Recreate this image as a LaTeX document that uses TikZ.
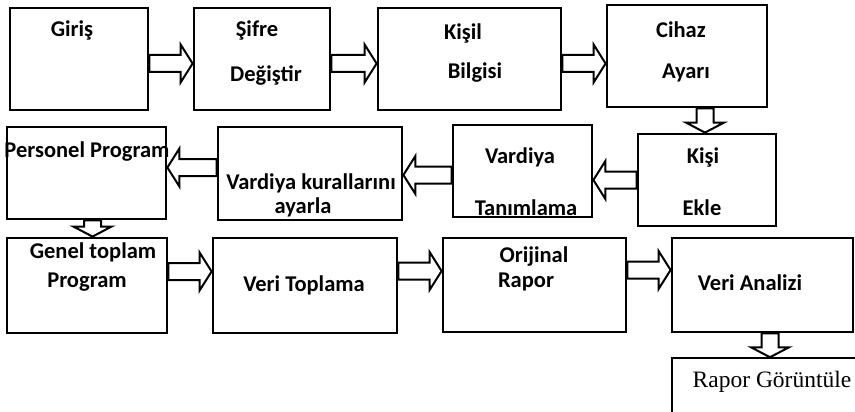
\documentclass[tikz,border=0pt]{standalone}
\usepackage{fontspec}
\setmainfont{Carlito}
\newfontfamily\serifFont{Liberation Serif}
\usetikzlibrary{calc}
\def \girisStr {Giriş}
\def \sifreStr {Şifre}
\def \degistirStr {Değiştir}
\def \kisilStr {Kişil}
\def \bilgisiStr {Bilgisi}
\def \cihazStr {Cihaz}
\def \ayariStr {Ayarı}
\def \personelProgramStr {Personel Program}
\def \vardiyaKurallariStr {Vardiya kurallarını}
\def \ayarlaStr {ayarla}
\def \vardiyaStr {Vardiya}
\def \tanimlamaStr {Tanımlama}
\def \kisiStr {Kişi}
\def \ekleStr {Ekle}
\def \genelToplamStr {Genel toplam}
\def \programStr {Program}
\def \veriToplamaStr {Veri Toplama}
\def \orijinalStr {Orijinal}
\def \raporStr {Rapor}
\def \veriAnaliziStr {Veri Analizi}
\def \raporGoruntuleStr {Rapor Görüntüle}
\def \shaftHalf {8.5pt}
\def \headHalf {19pt}
\def \headLength {12pt}

\tikzset{
  rblock/.style={to path={let \p1=(\tikztostart), \p2=(\tikztotarget) in
    (\x1,\y1+\shaftHalf) -- (\x2-\headLength,\y1+\shaftHalf) -- (\x2-\headLength,\y1+\headHalf)
    -- (\x2,\y1) -- (\x2-\headLength,\y1-\headHalf) -- (\x2-\headLength,\y1-\shaftHalf)
    -- (\x1,\y1-\shaftHalf) -- cycle}},
  lblock/.style={to path={let \p1=(\tikztostart), \p2=(\tikztotarget) in
    (\x1,\y1+\shaftHalf) -- (\x2+\headLength,\y1+\shaftHalf) -- (\x2+\headLength,\y1+\headHalf)
    -- (\x2,\y1) -- (\x2+\headLength,\y1-\headHalf) -- (\x2+\headLength,\y1-\shaftHalf)
    -- (\x1,\y1-\shaftHalf) -- cycle}},
  dblock/.style={to path={let \p1=(\tikztostart), \p2=(\tikztotarget) in
    (\x1-\shaftHalf,\y1) -- (\x1-\shaftHalf,\y2+10pt) -- (\x1-\headHalf,\y2+10pt)
    -- (\x1,\y2) -- (\x1+\headHalf,\y2+10pt) -- (\x1+\shaftHalf,\y2+10pt)
    -- (\x1+\shaftHalf,\y1) -- cycle}}
}

\begin{document}
\begin{tikzpicture}[x=1pt,y=-1pt]

\clip (0,0) rectangle (855,412);

\begin{scope}[blok/.style={draw=black, line width=2.8pt, inner sep=0pt},
  arrow/.style={draw=black, fill=white, line width=2pt},
  mytext/.style={inner sep=0pt, font=\fontsize{22.5}{26}\selectfont\bfseries}]

% boxes
\node[blok, minimum width=138pt, minimum height=102pt] (giris) at (79,59) {};
\node[blok, minimum width=136pt, minimum height=102pt] (sifre) at (262,59) {};
\node[blok, minimum width=183pt, minimum height=102pt] (kisil) at (469.5,59) {};
\node[blok, minimum width=160pt, minimum height=102pt] (cihaz) at (687,56) {};

\node[blok, minimum width=159pt, minimum height=92pt] (personel) at (86.5,173) {};
\node[blok, minimum width=184pt, minimum height=93pt] (vKural) at (310,173.5) {};
\node[blok, minimum width=139pt, minimum height=92pt] (vTanim) at (522.5,171) {};
\node[blok, minimum width=138pt, minimum height=92pt] (kisiEkle) at (707,180) {};

\node[blok, minimum width=160pt, minimum height=95pt] (genel) at (87,285.5) {};
\node[blok, minimum width=184pt, minimum height=95pt] (veriTop) at (305,285.5) {};
\node[blok, minimum width=183pt, minimum height=94pt] (orijinal) at (534.5,285) {};
\node[blok, minimum width=181pt, minimum height=94pt] (veriAnaliz) at (762.5,285) {};

\node[draw=black, line width=1.5pt, minimum width=200pt, minimum height=84pt] (rapor) at (772,400) {};

% texts
\node[mytext] (girisText) at (72,30) {\girisStr};
\node[mytext] (sifreText) at (257,30) {\sifreStr};
\node[mytext] (degistirText) at (266,75) {\degistirStr};
\node[mytext] (kisilText) at (463,33) {\kisilStr};
\node[mytext] (bilgisiText) at (475,73) {\bilgisiStr};
\node[mytext] (cihazText) at (681,30) {\cihazStr};
\node[mytext] (ayariText) at (686,73) {\ayariStr};

\node[mytext] (personelText) at (87,152) {\personelProgramStr};
\node[mytext] (vKuralText) at (311,183) {\vardiyaKurallariStr};
\node[mytext] (ayarlaText) at (303,207) {\ayarlaStr};
\node[mytext] (vardiyaText) at (520,157) {\vardiyaStr};
\node[mytext] (tanimText) at (526,208) {\tanimlamaStr};
\node[mytext] (kisiText) at (703,157) {\kisiStr};
\node[mytext] (ekleText) at (702,208) {\ekleStr};

\node[mytext] (genelText) at (93,252) {\genelToplamStr};
\node[mytext] (programText) at (87,282) {\programStr};
\node[mytext] (veriTopText) at (304,285) {\veriToplamaStr};
\node[mytext] (orijinalText) at (534,257) {\orijinalStr};
\node[mytext] (raporText) at (526,282) {\raporStr};
\node[mytext] (veriAnalizText) at (750,283) {\veriAnaliziStr};

\node[inner sep=0pt, font=\fontsize{23.5}{26}\serifFont] (raporGorText) at (772,382) {\raporGoruntuleStr};

% arrows
\draw[arrow, rblock] ([yshift=-4.5pt]giris.east) to (sifre.west);
\draw[arrow, rblock] ([yshift=-4.5pt]sifre.east) to (kisil.west);
\draw[arrow, rblock] ([yshift=-4.5pt]kisil.east) to (cihaz.west);
\draw[arrow, dblock] ([xshift=18pt]cihaz.south) to (kisiEkle.north);

\draw[arrow, lblock] (kisiEkle.west) to (vTanim.east);
\draw[arrow, lblock] ([yshift=-4pt]vTanim.west) to (vKural.east);
\draw[arrow, lblock] ([yshift=6pt]vKural.west) to (personel.east);
\draw[arrow, dblock] ([xshift=6pt]personel.south) to (genel.north);

\draw[arrow, rblock] ([yshift=14pt]genel.east) to (veriTop.west);
\draw[arrow, rblock] ([yshift=14.5pt]veriTop.east) to (orijinal.west);
\draw[arrow, rblock] ([yshift=15pt]orijinal.east) to (veriAnaliz.west);
\draw[arrow, dblock] ([xshift=7.5pt]veriAnaliz.south) to (rapor.north);

\end{scope}
\end{tikzpicture}
\end{document}
